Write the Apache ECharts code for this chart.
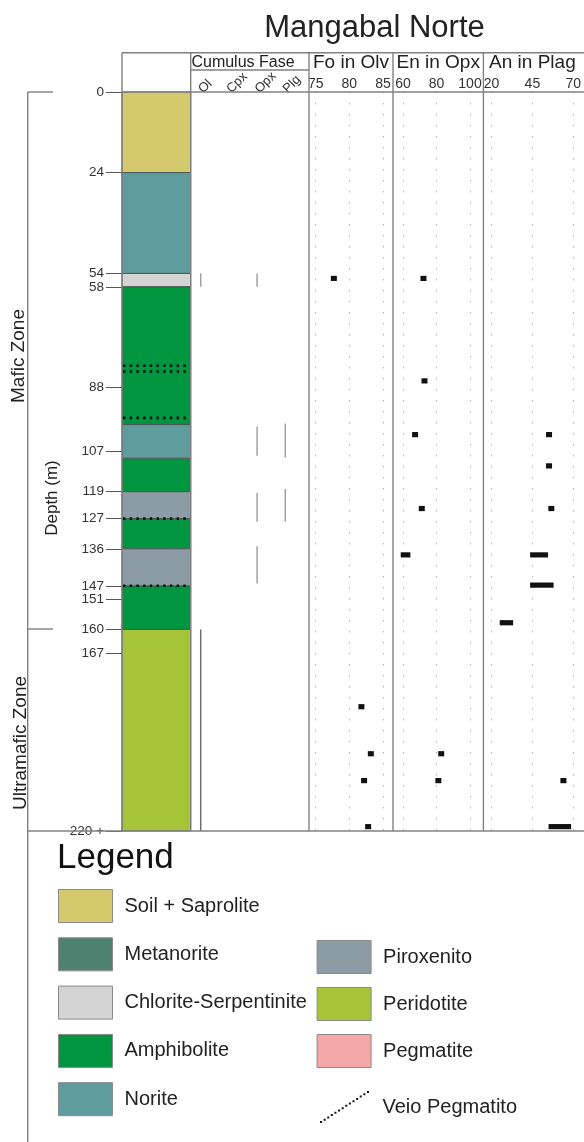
<!DOCTYPE html>
<html>
<head>
<meta charset="utf-8">
<script src="https://cdn.jsdelivr.net/npm/echarts@6/dist/echarts.min.js"></script>
<style>
  html, body { margin: 0; padding: 0; background: #fff; }
  #chart { width: 584px; height: 1142px; }
</style>
</head>
<body>
<div id="chart"></div>
<script>
/* ===== 岩性 ===== */
const rockNames = ['Soil + Saprolite', 'Metanorite', 'Chlorite-Serpentinite', 'Amphibolite', 'Norite', 'Piroxenito', 'Peridotite', 'Pegmatite'];
const rockColors = ['#d4c96d', '#4f8170', '#d4d4d4', '#00953f', '#5f9c9d', '#8c9ca4', '#a5c437', '#f4a7a7'];

/* ===== 柱状剖面 (m) ===== */
const layerRock = ['Soil + Saprolite', 'Norite', 'Chlorite-Serpentinite', 'Amphibolite', 'Norite', 'Amphibolite', 'Piroxenito', 'Amphibolite', 'Piroxenito', 'Amphibolite', 'Peridotite'];
const layerTop  = [0, 24, 54, 58, 99, 109, 119, 127, 136, 147, 160];
const layerBase = [24, 54, 58, 99, 109, 119, 127, 136, 147, 160, 220];
const veinDepth = [81.5, 83.2, 97, 127, 147];
const depthTicks = [0, 24, 54, 58, 88, 107, 119, 127, 136, 147, 151, 160, 167, 220];

/* ===== Cumulus ===== */
const phaseNames = ['Ol', 'Cpx', 'Opx', 'Plg'];
const cumPhase = ['Ol', 'Opx', 'Opx', 'Plg', 'Opx', 'Plg', 'Opx', 'Ol'];
const cumTop   = [54, 54, 99.6, 98.7, 119.3, 118.2, 135.2, 160];
const cumBase  = [58, 58, 108.3, 108.8, 127.9, 127.9, 146.3, 220];

/* ===== 矿物成分 ===== */
const foDepth = [55.5, 183, 197, 205, 218.7];
const foMin   = [77.7, 81.8, 83.2, 82.2, 82.8];
const foMax   = [77.7, 81.8, 83.2, 82.2, 82.8];

const enDepth = [55.5, 86, 102, 124, 137.8, 197, 205];
const enMin   = [72.2, 72.8, 67.2, 71.2, 58.6, 82.8, 81.1];
const enMax   = [72.2, 72.8, 67.2, 71.2, 64.4, 82.8, 81.1];

const anDepth = [102, 111.3, 124, 137.8, 146.8, 158, 205, 218.7];
const anMin   = [55.2, 55.2, 56.6, 43.6, 43.6, 25.0, 64.0, 54.9];
const anMax   = [55.2, 55.2, 56.6, 54.6, 58.0, 33.2, 64.0, 68.7];

const foTicks = [75, 80, 85];
const enTicks = [60, 80, 100];
const anTicks = [20, 45, 70];

const FONT = "'Liberation Sans', Arial, sans-serif";
const chart = echarts.init(document.getElementById('chart'));

/* ===== 绘制函数 ===== */
function renderLayer(params, api) {
  const a = api.coord([0, api.value(0)]);
  const b = api.coord([1, api.value(1)]);
  return {
    type: 'rect',
    shape: { x: a[0], y: a[1], width: b[0] - a[0], height: b[1] - a[1] },
    style: { fill: api.visual('color'), stroke: '#4a4a4a', lineWidth: 0.8 }
  };
}

function renderVein(params, api) {
  const a = api.coord([0, api.value(0)]);
  const b = api.coord([1, api.value(0)]);
  return {
    type: 'line',
    shape: { x1: a[0] + 1, y1: a[1], x2: b[0] - 1, y2: b[1] },
    style: { stroke: '#111', lineWidth: 2.6, lineDash: [2.4, 4.3] }
  };
}

function renderCum(params, api) {
  const a = api.coord([api.value(0), api.value(1)]);
  const b = api.coord([api.value(0), api.value(2)]);
  const dark = api.value(2) - api.value(1) > 30;
  return {
    type: 'line',
    shape: { x1: a[0], y1: a[1], x2: b[0], y2: b[1] },
    style: { stroke: dark ? '#6e6e6e' : '#a0a0a0', lineWidth: 1.5 }
  };
}

function renderMark(params, api) {
  const a = api.coord([api.value(0), api.value(2)]);
  const b = api.coord([api.value(1), api.value(2)]);
  const w = Math.max(b[0] - a[0], 6);
  const cx = (a[0] + b[0]) / 2;
  return {
    type: 'rect',
    shape: { x: cx - w / 2, y: a[1] - 2.6, width: w, height: 5.2 },
    style: { fill: '#111' }
  };
}

const zip3 = (a, b, c) => a.map((v, i) => [v, b[i], c[i]]);

/* 每种岩性一条 series，方便图例 */
const rockSeries = rockNames.map((name, k) => ({
  name: name,
  type: 'custom',
  xAxisIndex: 0,
  yAxisIndex: 0,
  itemStyle: { color: rockColors[k] },
  renderItem: renderLayer,
  encode: { y: [0, 1] },
  data: layerRock
    .map((r, i) => [r, layerTop[i], layerBase[i]])
    .filter((d) => d[0] === name)
    .map((d) => [d[1], d[2]])
}));

/* 图例中的虚线图标 */
let veinIcon = 'path://';
for (let i = 0; i < 14; i++) {
  const x = i * 3.6, y = 30 - i * 2.3;
  veinIcon += `M${x},${y}h2v2h-2z`;
}

const lineStyle = { stroke: '#808080', lineWidth: 1.4 };
const hLine = (x1, x2, y) => ({ type: 'line', z: 50, shape: { x1, y1: y, x2, y2: y }, style: lineStyle });
const vLine = (x, y1, y2) => ({ type: 'line', z: 50, shape: { x1: x, y1, x2: x, y2 }, style: lineStyle });
const vText = (text, x, y, size) => ({
  type: 'text', x, y, rotation: Math.PI / 2, z: 50,
  style: { text, fontSize: size, fontFamily: FONT, fill: '#222', align: 'center', verticalAlign: 'middle' }
});

const dotted = { show: true, lineStyle: { color: '#b0b0b0', width: 1, type: [1.4, 9.6] } };

function valueX(grid, min, max, ticks, name) {
  return {
    gridIndex: grid, type: 'value', position: 'top', min, max,
    name, nameLocation: 'middle', nameGap: 20, nameMoveOverlap: false,
    nameTextStyle: { fontSize: 19, color: '#222', fontFamily: FONT },
    axisLine: { show: false },
    axisTick: { show: false, customValues: ticks },
    axisLabel: { customValues: ticks, fontSize: 14, color: '#333', margin: 1, fontFamily: FONT },
    splitLine: dotted
  };
}

const depthY = (grid, show) => ({
  gridIndex: grid, type: 'value', min: 0, max: 220, inverse: true,
  show: show,
  axisLine: { show: false },
  axisTick: { show: show, length: 16, customValues: depthTicks, lineStyle: { color: '#555', width: 1 } },
  axisLabel: {
    show: show, customValues: depthTicks, fontSize: 13.5, color: '#333', margin: 18, fontFamily: FONT,
    formatter: (v) => (v === 220 ? '220 +' : String(v))
  },
  splitLine: { show: false }
});

const legendText = { fontSize: 20, color: '#222', fontFamily: FONT, padding: [0, 0, 0, 7] };

chart.setOption({
  animation: false,
  textStyle: { fontFamily: FONT },
  title: [
    { text: 'Mangabal Norte', left: 374.5, top: 13, padding: 0, textAlign: 'center',
      textStyle: { fontSize: 31, fontWeight: 'normal', color: '#222', fontFamily: FONT } },
    { text: 'Legend', left: 57, top: 841, padding: 0,
      textStyle: { fontSize: 35, fontWeight: 'normal', color: '#111', fontFamily: FONT } }
  ],
  grid: [
    { left: 122, top: 92, width: 68.7, height: 739 },
    { left: 200.7, top: 92, width: 84.6, height: 739 },
    { left: 309, top: 92, width: 84, height: 739 },
    { left: 393, top: 92, width: 90.4, height: 739 },
    { left: 483.4, top: 92, width: 100.6, height: 739 }
  ],
  xAxis: [
    { gridIndex: 0, type: 'value', min: 0, max: 1, show: false },
    {
      gridIndex: 1, type: 'category', data: phaseNames, position: 'top', boundaryGap: false,
      name: 'Cumulus Fase', nameLocation: 'middle', nameGap: 21, nameMoveOverlap: false,
      nameTextStyle: { fontSize: 16, color: '#222', fontFamily: FONT },
      axisLine: { show: false }, axisTick: { show: false },
      axisLabel: { rotate: 45, fontSize: 13, color: '#333', margin: 1, fontFamily: FONT }
    },
    valueX(2, 74, 86.5, foTicks, 'Fo in Olv'),
    valueX(3, 54, 108, enTicks, 'En in Opx'),
    valueX(4, 15, 75, anTicks, 'An in Plag')
  ],
  yAxis: [depthY(0, true), depthY(1, false), depthY(2, false), depthY(3, false), depthY(4, false)],
  legend: [
    {
      data: ['Soil + Saprolite', 'Metanorite', 'Chlorite-Serpentinite', 'Amphibolite', 'Norite'],
      orient: 'vertical', left: 58, top: 889, padding: 0, itemWidth: 54, itemHeight: 33, itemGap: 14.3,
      selectedMode: false, icon: 'rect',
      itemStyle: { borderColor: '#8a8a8a', borderWidth: 1 },
      textStyle: legendText
    },
    {
      data: ['Piroxenito', 'Peridotite', 'Pegmatite'],
      orient: 'vertical', left: 316.6, top: 940, padding: 0, itemWidth: 54, itemHeight: 33, itemGap: 13,
      selectedMode: false, icon: 'rect',
      itemStyle: { borderColor: '#8a8a8a', borderWidth: 1 },
      textStyle: legendText
    },
    {
      data: [{ name: 'Veio Pegmatito', icon: veinIcon }],
      left: 320, top: 1091, padding: 0, itemWidth: 50, itemHeight: 32,
      selectedMode: false,
      textStyle: { fontSize: 20, color: '#222', fontFamily: FONT, padding: [0, 0, 8, 8] }
    }
  ],
  graphic: [
    hLine(122, 584, 52.7),
    hLine(190.7, 309, 70),
    hLine(122, 584, 92),
    hLine(28, 584, 831),
    vLine(122, 52.7, 831),
    vLine(190.7, 52.7, 831),
    vLine(309, 52.7, 831),
    vLine(393, 52.7, 831),
    vLine(483.4, 52.7, 831),
    vLine(27.7, 92, 1142),
    hLine(27.7, 53, 92),
    hLine(27.7, 53, 629),
    vText('Mafic Zone', 19, 356, 19),
    vText('Ultramafic Zone', 20.5, 743, 19),
    vText('Depth (m)', 52, 498, 17)
  ],
  series: rockSeries.concat([
    {
      name: 'Veio Pegmatito', type: 'custom', xAxisIndex: 0, yAxisIndex: 0,
      itemStyle: { color: '#111' }, renderItem: renderVein, encode: { y: 0 },
      data: veinDepth.map((d) => [d]), z: 5
    },
    {
      name: 'Cumulus', type: 'custom', xAxisIndex: 1, yAxisIndex: 1,
      renderItem: renderCum, encode: { x: 0, y: [1, 2] },
      data: zip3(cumPhase, cumTop, cumBase)
    },
    {
      name: 'Fo', type: 'custom', xAxisIndex: 2, yAxisIndex: 2,
      renderItem: renderMark, encode: { x: [0, 1], y: 2 },
      data: zip3(foMin, foMax, foDepth)
    },
    {
      name: 'En', type: 'custom', xAxisIndex: 3, yAxisIndex: 3,
      renderItem: renderMark, encode: { x: [0, 1], y: 2 },
      data: zip3(enMin, enMax, enDepth)
    },
    {
      name: 'An', type: 'custom', xAxisIndex: 4, yAxisIndex: 4,
      renderItem: renderMark, encode: { x: [0, 1], y: 2 },
      data: zip3(anMin, anMax, anDepth)
    }
  ])
});
</script>
</body>
</html>
